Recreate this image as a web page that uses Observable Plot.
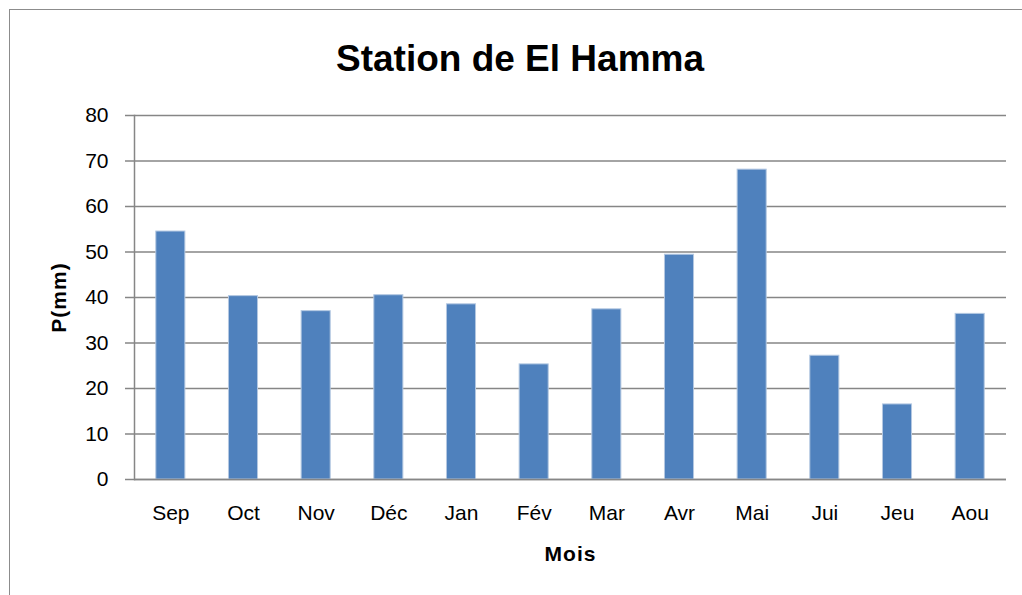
<!DOCTYPE html>
<html>
<head>
<meta charset="utf-8">
<script src="https://cdn.jsdelivr.net/npm/d3@7"></script>
<script src="https://cdn.jsdelivr.net/npm/@observablehq/plot@0.6"></script>
<style>
  html, body { margin: 0; padding: 0; background: #fff; }
  #wrap { position: relative; width: 1022px; height: 595px; overflow: hidden; font-family: "Liberation Sans", Arial, sans-serif; }
  #frame { position: absolute; left: 9px; top: 9px; width: 1100px; height: 700px; border: 1.5px solid #8c8c8c; box-sizing: border-box; }
  #title { position: absolute; left: 0; top: 38px; width: 1040px; text-align: center; font-weight: bold; font-size: 37px; line-height: 42px; color: #000; }
  #chart { position: absolute; left: 0; top: 0; }
  #chart svg text { font-family: "Liberation Sans", Arial, sans-serif; }
  g[aria-label="y-axis label"] text, g[aria-label="x-axis label"] text { font-weight: bold; letter-spacing: 1px; }
</style>
</head>
<body>
<div id="wrap">
  <div id="frame"></div>
  <div id="chart"></div>
  <div id="title">Station de El Hamma</div>
</div>
<script>
const months = ["Sep", "Oct", "Nov", "Déc", "Jan", "Fév", "Mar", "Avr", "Mai", "Jui", "Jeu", "Aou"];
const precip = [54.5, 40.3, 37.0, 40.5, 38.5, 25.3, 37.4, 49.4, 68.1, 27.2, 16.5, 36.4];
const yTicks = [0, 10, 20, 30, 40, 50, 60, 70, 80];

const data = months.map((m, i) => ({ mois: m, p: precip[i] }));

const chart = Plot.plot({
  width: 1022,
  height: 595,
  marginLeft: 134,
  marginRight: 16,
  marginTop: 115,
  marginBottom: 116,
  style: { fontSize: "21px", fontFamily: "Liberation Sans, Arial, sans-serif", color: "#000", background: "transparent", overflow: "visible" },
  x: { domain: months, paddingInner: 0.6, paddingOuter: 0.3, round: false, label: null },
  y: { domain: [0, 80], label: null },
  marks: [
    Plot.gridY(yTicks, { stroke: "#868686", strokeOpacity: 1, strokeWidth: 1.5 }),
    Plot.barY(data, { x: "mois", y: "p", fill: "#4F81BD", stroke: "#B4C8E2", strokeWidth: 1 }),
    Plot.ruleY([0], { stroke: "#868686", strokeWidth: 1.5 }),
    Plot.frame({ anchor: "left", stroke: "#868686", strokeWidth: 1.5 }),
    Plot.axisY(yTicks, { tickSize: 9, tickPadding: 17, stroke: "#868686", strokeWidth: 1.5, label: "P(mm)", labelAnchor: "center", labelOffset: 83, labelArrow: "none", fill: "#000" }),
    Plot.axisX({ tickSize: 0, tickPadding: 26, label: "Mois", labelAnchor: "center", labelOffset: 81, labelArrow: "none", fill: "#000" })
  ]
});
document.getElementById("chart").appendChild(chart);
</script>
</body>
</html>
